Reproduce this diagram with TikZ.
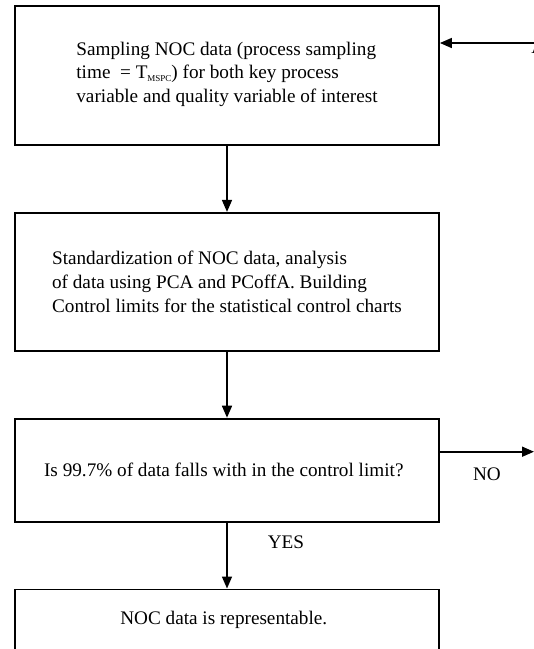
\documentclass[tikz,border=0pt]{standalone}
\usepackage{fontspec}
\setmainfont{Liberation Serif}
\usepackage{tikz}
\usetikzlibrary{arrows.meta, positioning}

\begin{document}
\begin{tikzpicture}[
  node distance=33pt,
  stepbox/.style={draw, line width=0.9pt, minimum width=212pt, align=left, inner sep=0pt, font=\fontsize{9.6}{11.9}\selectfont},
  flow/.style={line width=0.8pt, -{Triangle[length=6pt, width=5pt]}},
  lbl/.style={font=\fontsize{9.6}{11.9}\selectfont, inner sep=0pt}
]
  \useasboundingbox (0,0) rectangle (267pt,-324.5pt);

  \node[stepbox, minimum height=69.5pt] (sample) at (113.5pt,-37.75pt) {
    Sampling NOC data (process sampling\\[-0.4pt]
    time~ = T\raisebox{-0.35ex}{\fontsize{4.5}{5}\selectfont MSPC}) for both key process\\
    variable and quality variable of interest\\[-8.5pt]
  };
  \node[stepbox, minimum height=69pt, below=of sample] (stand) {
    Standardization of NOC data, analysis\\
    of data using PCA and PCoffA. Building\\
    Control limits for the statistical control charts
  };
  \node[stepbox, minimum height=51.5pt, below=of stand] (check) {
    Is 99.7\% of data falls with in the control limit?
  };
  \node[stepbox, minimum height=30.5pt, below=of check] (repr) {
    NOC data is representable.
  };

  % loop back and exit at the right edge
  \coordinate (rgt) at (267pt,0);
  \coordinate (back) at (267pt,-21.5pt);
  \coordinate (noout) at ([yshift=-17pt]check.north east);
  \coordinate (noend) at (noout -| rgt);
  \node[lbl, anchor=base west] (cut) at (265.5pt,-26.5pt) {A};

  \draw[flow] (sample) -- (stand);
  \draw[flow] (stand) -- (check);
  \draw[flow] (check) -- node[lbl, right=20pt, pos=0.3] (yes) {YES} (repr);
  \draw[flow] (noout) -- node[lbl, below=7.5pt] (no) {NO} (noend);
  \draw[flow] (back) -- (back -| sample.east);
\end{tikzpicture}
\end{document}
